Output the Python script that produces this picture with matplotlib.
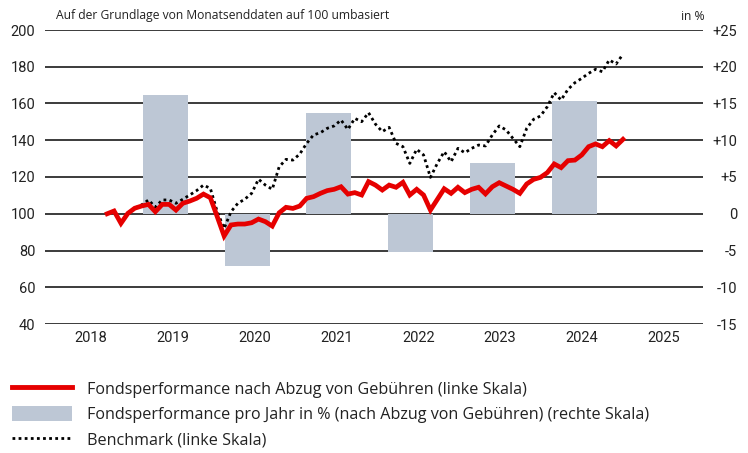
import matplotlib.pyplot as plt
import numpy as np
from matplotlib.patches import Patch
from matplotlib.lines import Line2D

plt.rcParams['font.family'] = ['Roboto', 'DejaVu Sans']

# month-end values, rebased to 100 (left scale)
fund = [100.0, 101.5, 94.8, 100.2, 103.0, 104.2, 105.1, 101.1, 105.1, 105.1,
        102.0, 105.7, 106.9, 108.4, 110.7, 108.7, 98.4, 87.9, 93.9, 94.4,
        94.4, 95.1, 97.1, 95.7, 93.3, 100.5, 103.5, 102.9, 104.2, 108.4,
        109.3, 111.1, 112.6, 113.3, 114.7, 110.7, 111.5, 110.2, 117.5, 115.6,
        112.9, 115.6, 114.4, 117.1, 110.2, 113.3, 110.2, 102.0, 107.8, 113.6,
        111.1, 114.4, 111.5, 113.3, 114.4, 110.8, 114.7, 116.9, 115.1, 113.3,
        111.1, 116.2, 118.7, 119.8, 122.4, 127.1, 125.1, 128.9, 129.2, 132.0,
        136.5, 138.0, 136.5, 139.8, 136.9, 140.5]
benchmark = [100.0, 101.5, 94.8, 100.2, 103.0, 104.8, 107.5, 103.6, 107.5, 107.5,
             105.7, 107.9, 110.2, 112.6, 115.6, 113.8, 101.1, 92.0, 101.1, 105.7,
             107.9, 111.1, 118.8, 115.6, 113.3, 125.5, 129.6, 129.2, 132.5, 138.3,
             142.9, 144.1, 146.5, 147.8, 151.0, 145.9, 151.9, 150.1, 155.0, 148.8,
             144.7, 147.0, 138.3, 136.5, 127.4, 135.1, 132.0, 119.8, 127.4, 133.8,
             128.3, 135.6, 133.2, 135.6, 137.4, 136.9, 142.9, 147.8, 145.6, 141.0,
             136.5, 146.5, 151.4, 153.2, 158.3, 165.9, 161.9, 167.7, 171.3, 173.7,
             176.4, 178.6, 177.3, 183.7, 181.5, 186.9]
start = 2018.70
step = 1 / 11.9

# yearly performance in % (right scale)
bar_years = [2019, 2020, 2021, 2022, 2023, 2024]
bar_values = [16.2, -7.1, 13.7, -5.2, 6.9, 15.4]

years = [2018, 2019, 2020, 2021, 2022, 2023, 2024, 2025]
left_ticks = [40, 60, 80, 100, 120, 140, 160, 180, 200]
right_ticks = [-15, -10, -5, 0, 5, 10, 15, 20, 25]
right_labels = ['-15', '-10', '-5', '0', '+5', '+10', '+15', '+20', '+25']

red = '#e60000'
barcol = '#bdc7d5'
txt = '#222222'
sans = ['Open Sans', 'DejaVu Sans']

x = start + np.arange(len(fund)) * step

fig = plt.figure(figsize=(7.48, 4.53), dpi=100)
ax = fig.add_axes([45/748, 1-324/453, 658/748, 294/453])
ax2 = ax.twinx()

# bars + grid on right axis, lines on left axis drawn on top
ax2.bar(np.array(bar_years) + 0.41, bar_values, width=0.55, color=barcol, zorder=2)
ax2.set_ylim(-15, 25)
ax2.set_yticks(right_ticks)
ax2.set_yticklabels(right_labels, ha='right')
ax2.grid(axis='y', color='#1a1a1a', linewidth=1.2, zorder=0)
ax2.set_axisbelow(True)

ax.set_zorder(ax2.get_zorder() + 1)
ax.patch.set_visible(False)
ax.plot(x, benchmark, color='black', linewidth=2, linestyle=(0, (1, 1.2)))
ax.plot(x, fund, color=red, linewidth=3.4, solid_joinstyle='miter')
ax.set_ylim(40, 200)
ax.set_yticks(left_ticks)
ax.set_xlim(2017.94, 2025.98)
ax.set_xticks(np.array(years) + 0.5)
ax.set_xticklabels([str(y) for y in years])

for a in (ax, ax2):
    for s in a.spines.values():
        s.set_visible(False)
    a.tick_params(length=0, labelsize=10.5, colors=txt)
ax.tick_params(axis='y', pad=7)
ax.tick_params(axis='x', pad=5)
ax2.tick_params(axis='y', pad=24.5)

fig.text(56/748, 1-16/453, 'Auf der Grundlage von Monatsenddaten auf 100 umbasiert',
         fontsize=8.7, va='center', color=txt, family=sans)
fig.text(705/748, 1-16/453, 'in %', fontsize=8.7, va='center', ha='right',
         color=txt, family=sans)

handles = [Line2D([], [], color=red, linewidth=3.5),
           Patch(facecolor=barcol),
           Line2D([], [], color='black', linewidth=2, linestyle=(0, (1, 1.2)))]
labels = ['Fondsperformance nach Abzug von Gebühren (linke Skala)',
          'Fondsperformance pro Jahr in % (nach Abzug von Gebühren) (rechte Skala)',
          'Benchmark (linke Skala)']
fig.legend(handles, labels, loc='upper left', bbox_to_anchor=(12/748, 1-381/453),
           frameon=False, prop={'family': sans, 'size': 11.6}, handlelength=3.7,
           handleheight=1.05, handletextpad=0.95, labelspacing=0.5, borderaxespad=0,
           borderpad=0, labelcolor=txt)

fig.savefig('out.png', dpi=100)
